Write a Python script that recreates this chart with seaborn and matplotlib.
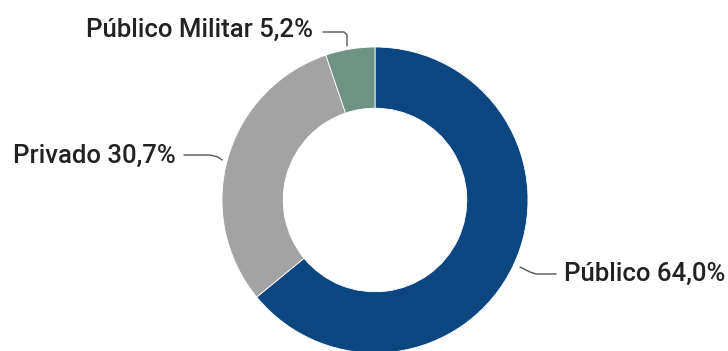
import matplotlib
matplotlib.use("Agg")
import matplotlib.pyplot as plt
import seaborn as sns

sns.set_theme(style="white")
plt.rcParams['font.family'] = ['Roboto', 'DejaVu Sans']

categories = ["Público", "Privado", "Público Militar"]
values = [64.0, 30.7, 5.2]
labels = ["Público 64,0%", "Privado 30,7%", "Público Militar 5,2%"]
colors = ["#0b4680", "#a3a3a3", "#6e9283"]

W, H = 728, 351
fig = plt.figure(figsize=(W / 100, H / 100), dpi=100)
ax = fig.add_axes([0, 0, 1, 1])

cx, cy, R = 375, H - 200, 153
ax.pie(values, colors=colors, startangle=90, counterclock=False,
       center=(cx, cy), radius=R, frame=True,
       wedgeprops=dict(width=R * 0.4, edgecolor="white", linewidth=0.6))
ax.set_xlim(0, W)
ax.set_ylim(0, H)
ax.set_aspect("equal")
ax.axis("off")

lc = "#555555"
fs = 18.5
tc = "#222222"
# Público
ax.plot([520, 530, 536, 556], [H - 267, H - 272, H - 274, H - 274], color=lc, lw=1)
ax.text(564, H - 274, labels[0], ha="left", va="center", fontsize=fs,
        fontweight="medium", color=tc)
# Privado
ax.plot([184, 210, 218, 222], [H - 155, H - 155, H - 157, H - 160], color=lc, lw=1)
ax.text(176, H - 156, labels[1], ha="right", va="center", fontsize=fs,
        fontweight="medium", color=tc)
# Público Militar
ax.plot([323, 344, 347, 347], [H - 32, H - 32, H - 35, H - 46], color=lc, lw=1)
ax.text(313, H - 30, labels[2], ha="right", va="center", fontsize=fs,
        fontweight="medium", color=tc)

fig.savefig("out.png", dpi=100)
